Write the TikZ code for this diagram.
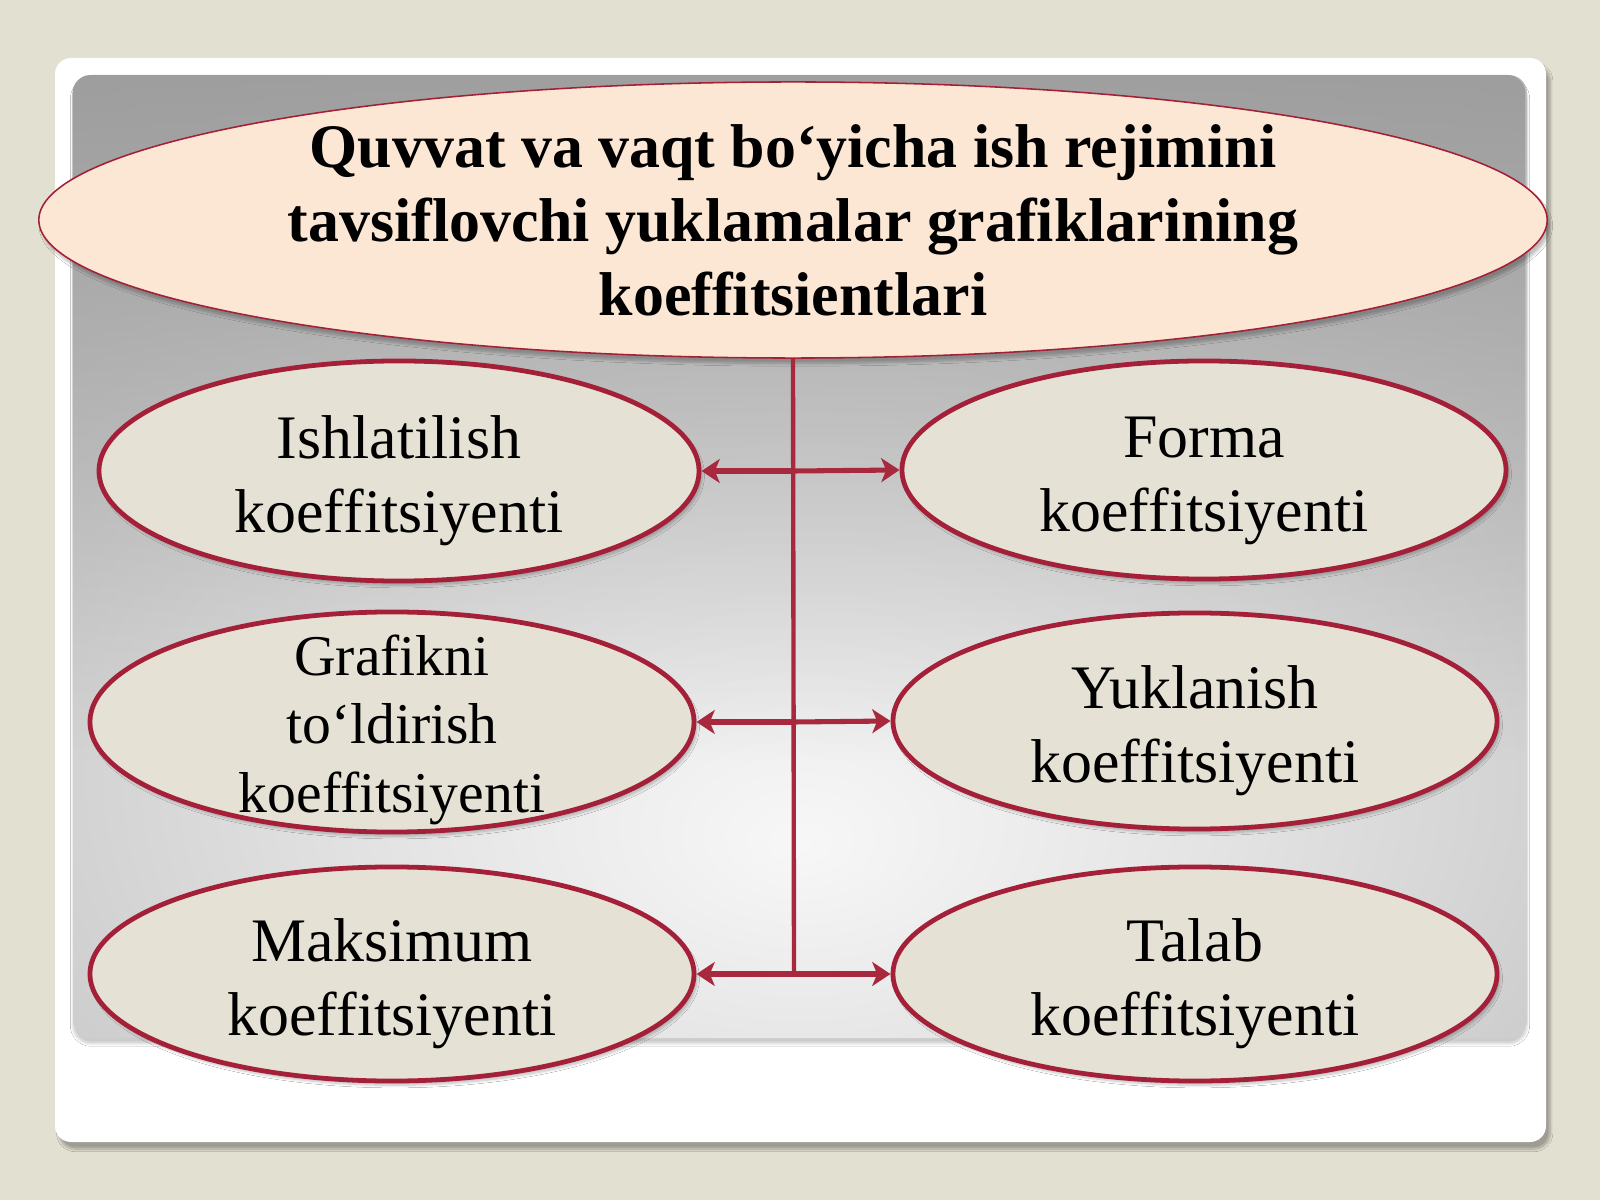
\documentclass[tikz,border=0pt]{standalone}
\usepackage{fontspec}
\setmainfont{Liberation Serif}
\usetikzlibrary{shapes.geometric,arrows.meta,shadows.blur,fadings}
\definecolor{bgc}{RGB}{226,224,209}
\definecolor{ovalfill}{RGB}{229,226,213}
\definecolor{peach}{RGB}{252,231,212}
\definecolor{crim}{RGB}{163,32,56}
\definecolor{linec}{RGB}{168,40,62}
\definecolor{gA}{RGB}{247,247,247}
\definecolor{gB}{RGB}{228,228,228}
\definecolor{gC}{RGB}{200,200,200}
\definecolor{gD}{RGB}{180,180,180}
\definecolor{gE}{RGB}{168,168,168}
\definecolor{topgray}{RGB}{150,150,150}
\pgfdeclareradialshading{panelshade}{\pgfpoint{0bp}{-15bp}}{%
  color(0bp)=(gA); color(14bp)=(gB); color(32bp)=(gC); color(50bp)=(gD); color(65bp)=(gE); color(100bp)=(gE)}
\newcommand{\upstrut}{\rule{0pt}{44pt}}
\tikzset{
  oval/.style={ellipse, draw=crim, line width=3.4pt, fill=ovalfill, inner xsep=0pt, inner ysep=-0.5cm,
    minimum width=15.1cm, minimum height=5.45cm, align=center,
    font=\fontsize{44}{52.6}\selectfont,
    blur shadow={shadow blur steps=6, shadow xshift=2pt, shadow yshift=-3pt, shadow opacity=25}},
  titleoval/.style={ellipse, draw=crim, line width=1.1pt, fill=peach, inner sep=0pt,
    minimum width=37.7cm, minimum height=6.9cm, align=center,
    font=\fontsize{44}{52.6}\selectfont\bfseries,
    blur shadow={shadow blur steps=6, shadow xshift=2pt, shadow yshift=-4pt, shadow opacity=25}},
  trunk/.style={draw=linec, line width=3.1pt},
  link/.style={draw=linec, line width=3.6pt, -{Stealth[length=13pt,width=17pt,inset=3.5pt]}},
}
\begin{document}
\begin{tikzpicture}[x=0.025cm,y=-0.025cm]
\useasboundingbox (0,0) rectangle (1600,1200);
\fill[bgc] (0,0) rectangle (1600,1200);
% white frame
\path[fill=white, rounded corners=0.4cm,
  blur shadow={shadow blur steps=10, shadow xshift=3pt, shadow yshift=-5pt, shadow opacity=30}]
  (55,58) rectangle (1546,1142);
% gray panel
\path[shading=panelshade, rounded corners=0.45cm,
  blur shadow={shadow blur steps=8, shadow xshift=0pt, shadow yshift=-4pt, shadow opacity=20}]
  (73,75) rectangle (1527,1038);
\fill[topgray, path fading=south, fill opacity=0.8, rounded corners=0.45cm]
  (73,75) rectangle (1527,760);
% title
\node[titleoval] (top) at (793,220) {Quvvat va vaqt bo‘yicha ish rejimini\\tavsiflovchi yuklamalar grafiklarining\\koeffitsientlari};
% ovals
\node[oval, minimum width=15.0cm, minimum height=5.5cm] (l1) at (399,471) {\upstrut Ishlatilish\\koeffitsiyenti};
\node[oval, minimum height=5.5cm, inner ysep=-1cm, font=\fontsize{41}{49}\selectfont] (l2) at (392,722) {\rule{0pt}{40pt}Grafikni\\to‘ldirish\\koeffitsiyenti};
\node[oval, minimum height=5.35cm] (l3) at (392,974) {\upstrut Maksimum\\koeffitsiyenti};
\node[oval] (r1) at (1204,470) {\upstrut Forma\\koeffitsiyenti};
\node[oval, minimum height=5.4cm] (r2) at (1195,721) {\upstrut Yuklanish\\koeffitsiyenti};
\node[oval, minimum height=5.35cm] (r3) at (1195,974) {\upstrut Talab\\koeffitsiyenti};
% connectors
\coordinate (j1) at (794,471);
\coordinate (j2) at (794,722);
\coordinate (j3) at (794,974);
\draw[trunk] (top.south) -- (j3);
\draw[link] (j1) -- (l1.east);
\draw[link] (j1) -- (r1.west);
\draw[link] (j2) -- (l2.east);
\draw[link] (j2) -- (r2.west);
\draw[link] (j3) -- (l3.east);
\draw[link] (j3) -- (r3.west);
\end{tikzpicture}
\end{document}
